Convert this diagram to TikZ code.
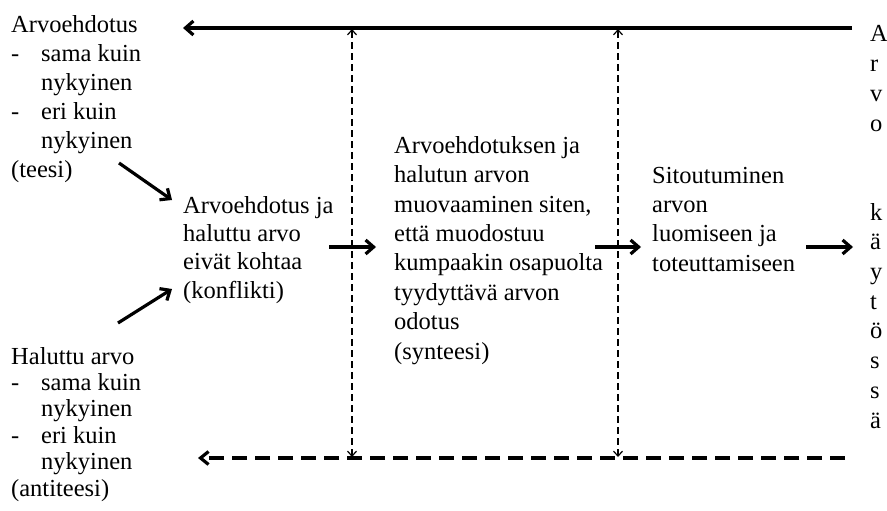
\documentclass[tikz,border=0pt]{standalone}
\usepackage{fontspec}
\setmainfont{Liberation Serif}
\usetikzlibrary{arrows.meta}
\begin{document}
\begin{tikzpicture}[x=1pt,y=-1pt,
  % multi-line text; the anchor sits on the baseline of the last line
  txt/.style={inner sep=0pt, align=left, anchor=base west,
    font=\fontsize{24.5}{#1}\selectfont},
  txt/.default=29,
  flow/.style={line width=3.2pt, -{Straight Barb[length=8pt,width=14pt]}},
  backline/.style={line width=3.2pt, dash pattern=on 15pt off 8pt,
    -{Straight Barb[length=8pt,width=13pt]}},
  cross/.style={line width=1.2pt, dash pattern=on 6.5pt off 4.5pt,
    {Straight Barb[length=5pt,width=9pt]}-{Straight Barb[length=5pt,width=9pt]}}
]
\useasboundingbox (0,0) rectangle (887,511);

% text blocks
\newcommand{\itm}{\makebox[30pt][l]{-}}
\node[txt=29] (teesi) at (11,177) {Arvoehdotus\\\itm sama kuin\\\hspace*{30pt}nykyinen\\\itm eri kuin\\\hspace*{30pt}nykyinen\\(teesi)};
\node[txt=26.4] (antit) at (11,496) {Haluttu arvo\\\itm sama kuin\\\hspace*{30pt}nykyinen\\\itm eri kuin\\\hspace*{30pt}nykyinen\\(antiteesi)};
\node[txt=28.3] (konf) at (183,298) {Arvoehdotus ja\\haluttu arvo\\eivät kohtaa\\(konflikti)};
\node[txt=29.4] (synt) at (394,359) {Arvoehdotuksen ja\\halutun arvon\\muovaaminen siten,\\että muodostuu\\kumpaakin osapuolta\\tyydyttävä arvon\\odotus\\(synteesi)};
\node[txt=29.3] (sito) at (652,271) {Sitoutuminen\\arvon\\luomiseen ja\\toteuttamiseen};
\node[txt=29.7] (kayt) at (870,428) {A\\r\\v\\o\\\mbox{}\\\mbox{}\\k\\ä\\y\\t\\ö\\s\\s\\ä};

% end points of the connectors
\coordinate (topR) at (852,28);
\coordinate (topL) at (183,28);
\coordinate (botR) at (845,458);
\coordinate (botL) at (198,458);
\coordinate (v1t) at (352,29);
\coordinate (v1b) at (352,457);
\coordinate (v2t) at (618,29);
\coordinate (v2b) at (618,457);
\coordinate (d1s) at (119,163);
\coordinate (d1e) at (172,200);
\coordinate (d2s) at (118,323);
\coordinate (d2e) at (172,289);
\coordinate (h1s) at (329,247);
\coordinate (h1e) at (376,247);
\coordinate (h2s) at (595,247);
\coordinate (h2e) at (641,247);
\coordinate (h3s) at (806,247);
\coordinate (h3e) at (853,247);

% connectors
\draw[flow] (topR) -- (topL);
\draw[backline] (botR) -- (botL);
\draw[cross] (v1b) -- (v1t);
\draw[cross] (v2b) -- (v2t);
\draw[flow] (d1s) -- (d1e);
\draw[flow] (d2s) -- (d2e);
\draw[flow] (h1s) -- (h1e);
\draw[flow] (h2s) -- (h2e);
\draw[flow] (h3s) -- (h3e);
\end{tikzpicture}
\end{document}
